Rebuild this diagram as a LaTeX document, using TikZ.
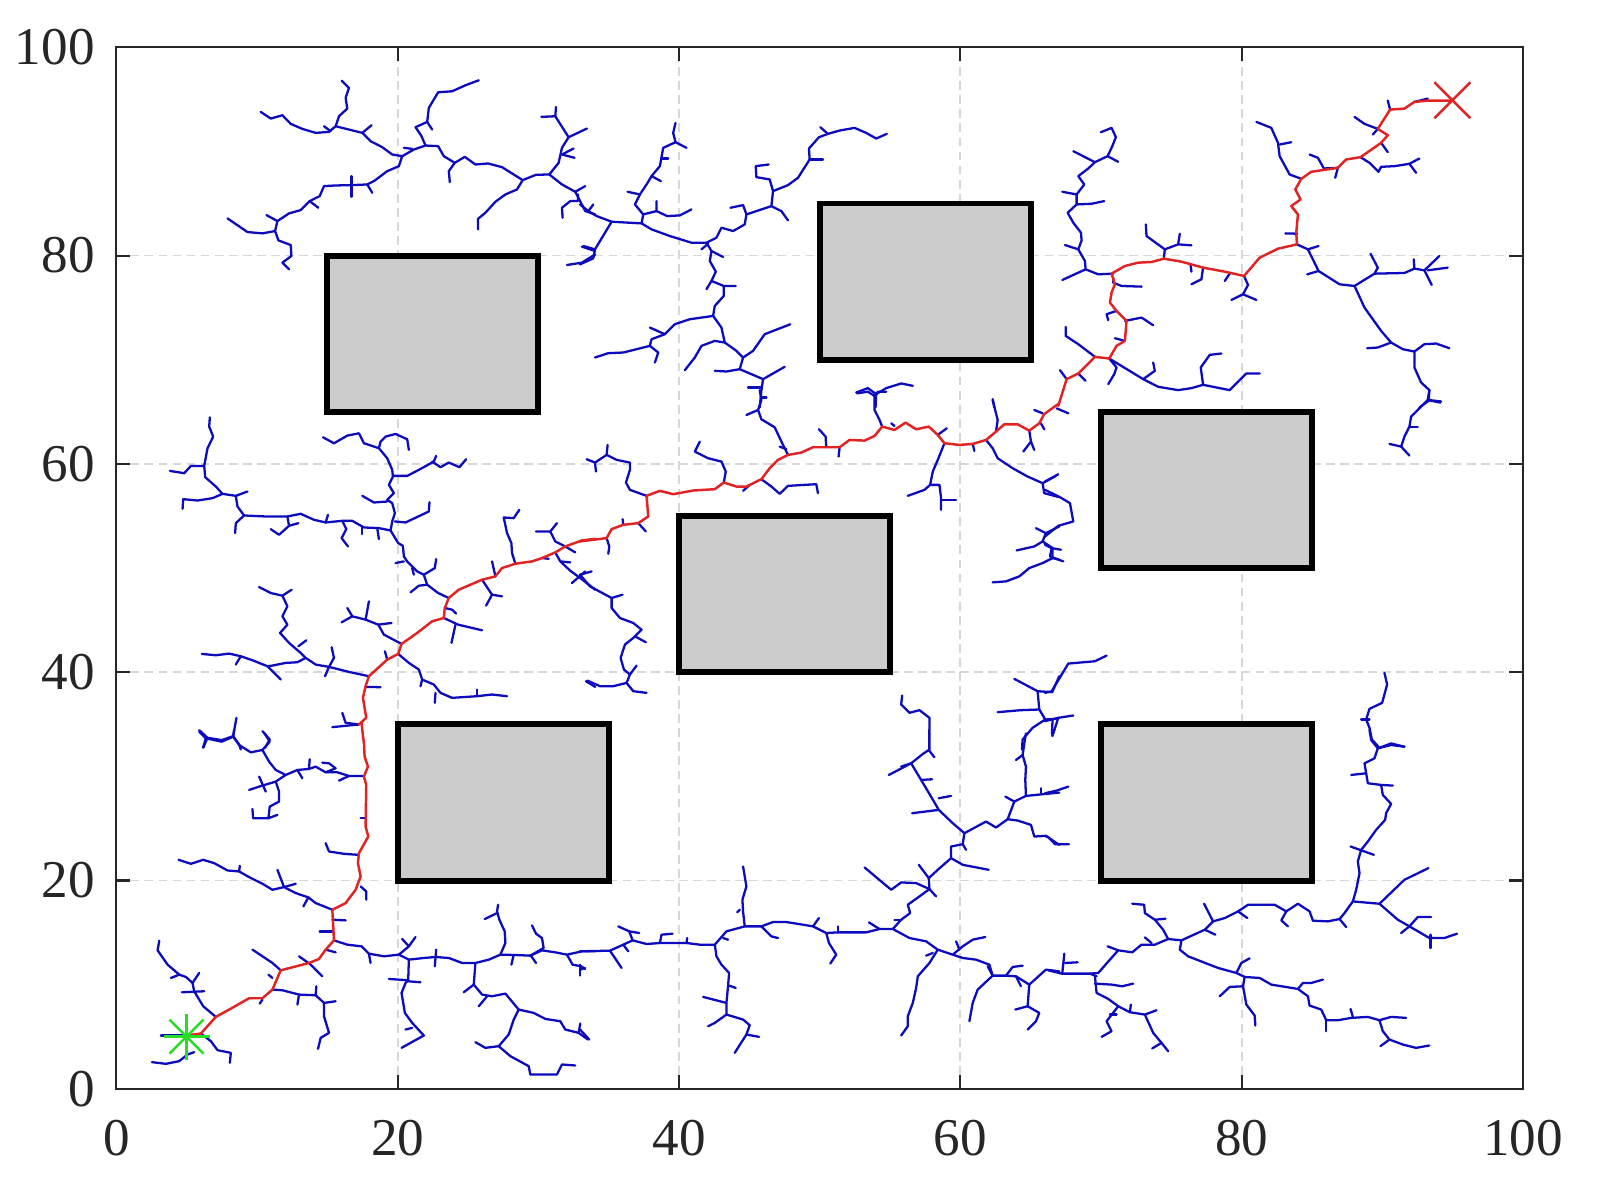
\documentclass[tikz,border=0pt]{standalone}
\usepackage{fontspec}
\setmainfont{Liberation Serif}
\newfontfamily\labfont{Liberation Serif}
\definecolor{axcol}{RGB}{38,38,38}
\definecolor{gridcol}{RGB}{215,215,215}
\definecolor{obsfill}{RGB}{204,204,204}
\definecolor{treeblue}{RGB}{12,12,190}
\definecolor{pathred}{RGB}{225,35,35}
\definecolor{startgreen}{RGB}{40,220,40}
\tikzset{
  tree/.style={draw=treeblue, line width=0.65pt, line join=round, line cap=round},
  rpath/.style={draw=pathred, line width=0.7pt, line join=round, line cap=round},
  gridline/.style={draw=gridcol, line width=0.5pt, dash pattern=on 2.5pt off 1.5pt},
  obstacle/.style={fill=obsfill, draw=black, line width=1.7pt},
  axisline/.style={draw=axcol, line width=0.6pt},
  ticklab/.style={font=\labfont\fontsize{15.1}{18}\selectfont, text=axcol, inner sep=0pt},
  crop/.style={x=0.0033333cm, y=-0.0033333cm}
}
\begin{document}
\begin{tikzpicture}[x=0.01cm, y=-0.01cm]
\useasboundingbox (0,0) rectangle (1600,1202);
\fill[white] (0,0) rectangle (1600,1202);

% ---------- data frame: grid and obstacles ----------
\begin{scope}[shift={(116.3,1088.8)}, x=0.1406cm, y=0.1041cm]
  \foreach \v in {20,40,60,80} {
    \draw[gridline] (\v,0) -- (\v,100);
    \draw[gridline] (0,\v) -- (100,\v);
  }
  \draw[obstacle] (15,65) rectangle (30,80);
  \draw[obstacle] (50,70) rectangle (65,85);
  \draw[obstacle] (40,40) rectangle (55,55);
  \draw[obstacle] (70,50) rectangle (85,65);
  \draw[obstacle] (20,20) rectangle (35,35);
  \draw[obstacle] (70,20) rectangle (85,35);
\end{scope}

% ---------- tree, crop 1 ----------
\begin{scope}[shift={(116,48)}, crop]
\draw[tree] plot coordinates {(435,192) (465,212) (500,202) (525,228) (560,243) (600,255) (640,252) (660,235) (670,205) (695,182) (690,150) (700,120) (678,98)};
\draw[tree] plot coordinates {(625,235) (645,250)};
\draw[tree] plot coordinates {(660,235) (740,255) (765,280) (800,298) (830,320) (860,325)};
\draw[tree] plot coordinates {(740,255) (768,232)};
\draw[tree] plot coordinates {(860,325) (850,355) (815,370) (775,400) (755,410) (710,412) (660,413) (625,415) (612,445) (582,460) (555,487) (520,497) (485,520) (478,550) (440,557) (395,553) (335,512)};
\draw[tree] plot coordinates {(708,385) (708,447)};
\draw[tree] plot coordinates {(755,410) (770,435)};
\draw[tree] plot coordinates {(582,460) (608,480)};
\draw[tree] plot coordinates {(485,520) (452,502)};
\draw[tree] plot coordinates {(478,550) (488,578) (525,592) (527,625) (500,645) (520,665)};
\draw[tree] plot coordinates {(860,325) (895,305) (930,293) (968,295) (985,325) (1018,345) (1048,327) (1080,350) (1118,347) (1160,358) (1222,397) (1262,381) (1302,380) (1340,410) (1380,432) (1410,490) (1440,500)};
\draw[tree] plot coordinates {(865,300) (890,303)};
\draw[tree] plot coordinates {(930,293) (918,265) (900,238) (935,222) (950,245)};
\draw[tree] plot coordinates {(935,222) (940,180) (968,133) (1010,130) (1050,112) (1090,97)};
\draw[tree] plot coordinates {(1018,345) (1000,370) (1003,403)};
\draw[tree] plot coordinates {(1222,397) (1205,425) (1170,440) (1140,462) (1110,495) (1088,513) (1088,545)};
\draw[tree] plot coordinates {(1302,380) (1330,345) (1340,300) (1360,268) (1415,242)};
\draw[tree] plot coordinates {(1360,268) (1320,205) (1278,207)};
\draw[tree] plot coordinates {(1320,205) (1322,177)};
\draw[tree] plot coordinates {(1340,320) (1378,330)};
\draw[tree] plot coordinates {(1340,320) (1375,302)};
\draw[tree] plot coordinates {(1380,432) (1410,415)};
\draw[tree] plot coordinates {(1388,440) (1388,460) (1365,460) (1340,480) (1342,510)};
\draw[tree] plot coordinates {(1355,652) (1400,645) (1440,620)};
\draw[tree] plot coordinates {(1400,597) (1440,610)};
\end{scope}

% ---------- tree, crop 2 ----------
\begin{scope}[shift={(580,48)}, crop]
\draw[tree] plot coordinates {(0,650) (40,632) (45,605) (95,522) (185,527) (215,545) (270,565) (335,585) (380,585) (410,570)};
\draw[tree] plot coordinates {(95,522) (50,505) (25,490) (0,470)};
\draw[tree] plot coordinates {(40,470) (25,490)};
\draw[tree] plot coordinates {(45,605) (10,595)};
\draw[tree] plot coordinates {(185,527) (190,500) (165,470) (180,440) (200,410) (215,385) (240,355) (250,300) (287,283) (280,255) (287,225)};
\draw[tree] plot coordinates {(287,283) (320,300)};
\draw[tree] plot coordinates {(245,332) (265,332)};
\draw[tree] plot coordinates {(215,385) (243,400)};
\draw[tree] plot coordinates {(180,440) (143,432)};
\draw[tree] plot coordinates {(190,500) (230,490) (230,460)};
\draw[tree] plot coordinates {(230,490) (262,505) (300,503) (335,485)};
\draw[tree] plot coordinates {(380,585) (395,610) (390,640) (408,672) (395,700) (380,725)};
\draw[tree] plot coordinates {(395,700) (432,715) (468,715)};
\draw[tree] plot coordinates {(432,715) (432,745) (405,775) (400,805) (330,815) (285,830) (255,860) (215,875) (210,895) (170,905) (130,915) (85,917) (45,930)};
\draw[tree] plot coordinates {(255,860) (210,840)};
\draw[tree] plot coordinates {(210,895) (235,915) (225,945)};
\draw[tree] plot coordinates {(395,610) (430,628)};
\draw[tree] plot coordinates {(365,605) (385,588)};
\draw[tree] plot coordinates {(400,805) (425,840) (435,885) (405,880) (365,895) (345,930) (315,968)};
\draw[tree] plot coordinates {(435,885) (470,910) (490,930) (520,910) (555,860) (632,830)};
\draw[tree] plot coordinates {(490,930) (480,965) (440,972) (405,970)};
\draw[tree] plot coordinates {(480,965) (550,995) (615,958)};
\draw[tree] plot coordinates {(550,995) (545,1030) (540,1080)};
\draw[tree] plot coordinates {(545,1020) (505,1020)};
\draw[tree] plot coordinates {(545,1050) (560,1050)};
\draw[tree] plot coordinates {(410,570) (425,540) (460,550) (495,530) (500,500) (575,475) (580,430) (625,412) (655,390) (690,335) (688,302) (718,268) (745,258) (780,248) (825,240) (860,255) (890,272) (922,258)};
\draw[tree] plot coordinates {(500,500) (490,472) (452,480)};
\draw[tree] plot coordinates {(575,475) (605,490) (625,518)};
\draw[tree] plot coordinates {(580,430) (570,395) (530,388) (528,355) (567,350)};
\draw[tree] plot coordinates {(690,335) (730,335)};
\draw[tree] plot coordinates {(745,258) (722,238)};
\draw[tree] plot coordinates {(830,1035) (865,1022) (890,1040) (920,1022) (965,1008) (1000,1015)};
\draw[tree] plot coordinates {(890,1040) (888,1080)};
\draw[tree] plot coordinates {(1240,1055) (1245,1080)};
\end{scope}

% ---------- tree, crop 3 ----------
\begin{scope}[shift={(1045,48)}, crop]
\draw[tree] plot coordinates {(168,253) (200,240) (213,268) (200,300) (188,325) (150,343) (85,310)};
\draw[tree] plot coordinates {(188,325) (220,342)};
\draw[tree] plot coordinates {(150,343) (130,362) (100,385) (118,410) (95,440) (52,432)};
\draw[tree] plot coordinates {(95,440) (95,470) (140,468) (178,460)};
\draw[tree] plot coordinates {(95,470) (68,495) (85,525) (108,555) (110,578) (100,605) (60,592)};
\draw[tree] plot coordinates {(100,605) (120,640) (122,665) (52,697)};
\draw[tree] plot coordinates {(122,665) (160,680) (205,678)};
\draw[tree] plot coordinates {(205,690) (205,705) (230,715) (290,717)};
\draw[tree] plot coordinates {(357,633) (360,605) (305,565) (303,530)};
\draw[tree] plot coordinates {(360,605) (400,590) (440,593)};
\draw[tree] plot coordinates {(400,590) (405,558)};
\draw[tree] plot coordinates {(437,648) (440,672)};
\draw[tree] plot coordinates {(475,660) (470,695) (440,710)};
\draw[tree] plot coordinates {(555,678) (540,700)};
\draw[tree] plot coordinates {(598,685) (610,712) (595,740) (560,757)};
\draw[tree] plot coordinates {(595,740) (635,757)};
\draw[tree] plot coordinates {(215,790) (185,800) (190,818)};
\draw[tree] plot coordinates {(240,820) (290,810) (325,833)};
\draw[tree] plot coordinates {(240,880) (210,872)};
\draw[tree] plot coordinates {(193,933) (215,960) (208,980) (190,1010)};
\draw[tree] plot coordinates {(193,933) (295,995) (330,970) (325,945)};
\draw[tree] plot coordinates {(295,995) (340,1018) (400,1028) (440,1022) (475,1012) (555,1028) (605,978) (645,978)};
\draw[tree] plot coordinates {(475,1012) (468,960) (495,922) (530,918)};
\draw[tree] plot coordinates {(150,928) (100,890) (62,865) (62,838)};
\draw[tree] plot coordinates {(100,978) (122,1000)};
\draw[tree] plot coordinates {(65,995) (45,968)};
\draw[tree] plot coordinates {(757,590) (790,605) (822,595)};
\draw[tree] plot coordinates {(790,605) (822,670) (788,680)};
\draw[tree] plot coordinates {(822,670) (885,710) (930,715) (990,678) (1000,660) (978,618)};
\draw[tree] plot coordinates {(990,678) (1080,676) (1110,663) (1108,635)};
\draw[tree] plot coordinates {(1110,663) (1140,668) (1185,625)};
\draw[tree] plot coordinates {(1140,668) (1162,712)};
\draw[tree] plot coordinates {(1150,668) (1210,660)};
\draw[tree] plot coordinates {(930,715) (960,780) (1010,850) (1040,885) (1075,905) (1110,912) (1140,890) (1175,888) (1215,902)};
\draw[tree] plot coordinates {(1040,885) (1000,900) (968,902)};
\draw[tree] plot coordinates {(1110,912) (1110,960) (1130,1005) (1155,1028) (1153,1060) (1125,1080)};
\draw[tree] plot coordinates {(1155,1058) (1190,1062)};
\draw[tree] plot coordinates {(758,558) (722,557)};
\draw[tree] plot coordinates {(770,393) (735,380) (705,325) (700,285) (680,240) (635,222)};
\draw[tree] plot coordinates {(705,290) (740,283)};
\draw[tree] plot coordinates {(880,360) (838,362) (820,330) (795,320)};
\draw[tree] plot coordinates {(880,360) (872,390)};
\draw[tree] plot coordinates {(948,328) (975,345) (1002,372) (1010,357) (1050,355) (1095,348) (1125,332)};
\draw[tree] plot coordinates {(1095,348) (1115,375)};
\draw[tree] plot coordinates {(1010,285) (1030,313)};
\draw[tree] plot coordinates {(1000,243) (960,228) (930,207)};
\draw[tree] plot coordinates {(1000,243) (985,260)};
\draw[tree] plot coordinates {(1037,185) (1030,158)};
\draw[tree] plot coordinates {(1110,162) (1150,152)};
\end{scope}

% ---------- tree, crop 4 ----------
\begin{scope}[shift={(116,390)}, crop]
\draw[tree] plot coordinates {(282,82) (280,110) (292,140) (275,175) (265,228) (225,228) (205,250) (162,243)};
\draw[tree] plot coordinates {(265,228) (268,262) (300,290) (320,312) (290,325) (245,332) (202,328) (200,357)};
\draw[tree] plot coordinates {(320,312) (360,318) (395,305)};
\draw[tree] plot coordinates {(360,318) (365,350) (385,377) (360,400) (358,430)};
\draw[tree] plot coordinates {(385,377) (450,380) (515,380) (555,372) (595,390) (630,398) (680,393) (710,393) (745,413) (790,415) (825,422)};
\draw[tree] plot coordinates {(515,380) (520,408) (490,435) (465,418)};
\draw[tree] plot coordinates {(520,408) (548,400)};
\draw[tree] plot coordinates {(630,398) (637,375)};
\draw[tree] plot coordinates {(680,393) (692,418) (678,445) (697,470)};
\draw[tree] plot coordinates {(740,413) (740,433)};
\draw[tree] plot coordinates {(785,415) (790,448)};
\draw[tree] plot coordinates {(825,422) (830,395) (838,370) (830,340) (815,330) (835,310) (820,285) (832,260) (830,240) (815,205) (790,175) (745,160) (730,130) (695,137) (655,160) (622,142)};
\draw[tree] plot coordinates {(790,175) (795,155) (810,140) (840,132) (875,148) (880,180)};
\draw[tree] plot coordinates {(832,258) (875,258) (910,240) (955,215) (962,198)};
\draw[tree] plot coordinates {(950,215) (975,232) (1000,218) (1032,232) (1052,208)};
\draw[tree] plot coordinates {(815,335) (775,338) (740,318)};
\draw[tree] plot coordinates {(838,395) (870,398) (940,365) (942,337)};
\draw[tree] plot coordinates {(825,422) (848,460) (862,468) (865,500) (875,515) (905,545) (925,555) (935,585) (968,610) (1000,625)};
\draw[tree] plot coordinates {(865,515) (840,520)};
\draw[tree] plot coordinates {(890,535) (895,555)};
\draw[tree] plot coordinates {(925,555) (958,535) (962,508)};
\draw[tree] plot coordinates {(935,585) (910,588) (885,608)};
\draw[tree] plot coordinates {(988,655) (1010,660) (1022,672)};
\draw[tree] plot coordinates {(985,685) (1028,705) (1100,722)};
\draw[tree] plot coordinates {(1020,705) (1008,760)};
\draw[tree] plot coordinates {(1100,570) (1130,615) (1112,648)};
\draw[tree] plot coordinates {(1130,615) (1160,620)};
\draw[tree] plot coordinates {(1140,560) (1130,515)};
\draw[tree] plot coordinates {(1200,522) (1190,490) (1188,460) (1175,430) (1165,383) (1195,385) (1212,360)};
\draw[tree] plot coordinates {(1320,488) (1335,515) (1365,543) (1395,565) (1440,600)};
\draw[tree] plot coordinates {(1335,515) (1365,518)};
\draw[tree] plot coordinates {(1370,580) (1410,545)};
\draw[tree] plot coordinates {(1262,425) (1305,425) (1325,400)};
\draw[tree] plot coordinates {(1305,425) (1320,455) (1350,470) (1380,488)};
\draw[tree] plot coordinates {(1280,505) (1300,507)};
\draw[tree] plot coordinates {(430,592) (465,610) (500,618) (528,600)};
\draw[tree] plot coordinates {(500,618) (515,650) (500,680) (515,705) (493,730) (520,760) (555,790) (570,805)};
\draw[tree] plot coordinates {(548,770) (572,752)};
\draw[tree] plot coordinates {(570,805) (545,818) (510,820) (470,828) (455,830) (410,812) (375,800) (340,792) (300,797) (258,793)};
\draw[tree] plot coordinates {(455,830) (475,850) (495,870)};
\draw[tree] plot coordinates {(375,800) (360,825)};
\draw[tree] plot coordinates {(570,805) (600,825) (640,832) (700,847) (760,860)};
\draw[tree] plot coordinates {(640,832) (628,860)};
\draw[tree] plot coordinates {(640,832) (655,805) (648,773)};
\draw[tree] plot coordinates {(750,892) (795,893)};
\draw[tree] plot coordinates {(858,763) (805,735) (788,705) (750,690) (710,680) (695,655)};
\draw[tree] plot coordinates {(750,690) (760,635)};
\draw[tree] plot coordinates {(710,680) (678,698)};
\draw[tree] plot coordinates {(788,705) (828,700)};
\draw[tree] plot coordinates {(848,793) (880,820) (910,840) (920,870) (955,885) (975,910) (1010,925) (1085,920) (1130,915) (1175,920)};
\draw[tree] plot coordinates {(960,910) (958,940)};
\draw[tree] plot coordinates {(1085,920) (1085,900)};
\draw[tree] plot coordinates {(920,870) (915,890)};
\draw[tree] plot coordinates {(815,810) (808,785)};
\draw[tree] plot coordinates {(730,1005) (690,1000) (680,970)};
\draw[tree] plot coordinates {(730,1005) (650,1013)};
\draw[tree] plot coordinates {(250,1022) (275,1045) (318,1052) (352,1040) (362,985)};
\draw[tree] plot coordinates {(352,1040) (370,1065) (375,1080)};
\draw[tree] plot coordinates {(275,1045) (262,1075)};
\draw[tree] plot coordinates {(440,1025) (462,1050) (448,1075)};
\draw[tree] plot coordinates {(1412,875) (1440,892)};
\end{scope}

% ---------- tree, crop 5 ----------
\begin{scope}[shift={(580,390)}, crop]
\draw[tree] plot coordinates {(200,318) (150,300) (138,278) (150,240) (150,218) (110,210) (80,195) (83,165)};
\draw[tree] plot coordinates {(80,195) (45,218) (20,208)};
\draw[tree] plot coordinates {(45,218) (48,245)};
\draw[tree] plot coordinates {(80,445) (88,470) (85,492)};
\draw[tree] plot coordinates {(175,400) (198,425)};
\draw[tree] plot coordinates {(130,405) (128,388)};
\draw[tree] plot coordinates {(432,278) (438,245) (425,215) (385,205) (345,185) (360,155)};
\draw[tree] plot coordinates {(545,268) (575,290) (600,312) (625,288) (675,285) (710,283) (715,310)};
\draw[tree] plot coordinates {(510,285) (490,303)};
\draw[tree] plot coordinates {(625,195) (610,165) (585,112) (545,88) (535,60) (500,75)};
\draw[tree] plot coordinates {(535,60) (545,30) (540,0)};
\draw[tree] plot coordinates {(600,170) (620,178)};
\draw[tree] plot coordinates {(740,172) (738,140) (718,118)};
\draw[tree] plot coordinates {(780,172) (777,200)};
\draw[tree] plot coordinates {(908,110) (900,90) (885,60) (885,18) (895,5) (920,5)};
\draw[tree] plot coordinates {(885,18) (865,5) (832,10)};
\draw[tree] plot coordinates {(935,100) (945,108)};
\draw[tree] plot coordinates {(1075,135) (1102,115)};
\draw[tree] plot coordinates {(1095,160) (1075,210) (1060,245) (1052,285) (1035,300) (985,318)};
\draw[tree] plot coordinates {(1052,285) (1080,285) (1085,325) (1085,360)};
\draw[tree] plot coordinates {(1085,330) (1130,330)};
\draw[tree] plot coordinates {(1180,162) (1185,183)};
\draw[tree] plot coordinates {(1220,150) (1240,175) (1255,205) (1300,235) (1345,260) (1390,280) (1395,310) (1440,322)};
\draw[tree] plot coordinates {(1390,280) (1430,258)};
\draw[tree] plot coordinates {(1250,125) (1255,90) (1240,30)};
\draw[tree] plot coordinates {(1350,122) (1355,155) (1332,185)};
\draw[tree] plot coordinates {(1355,155) (1365,180)};
\draw[tree] plot coordinates {(1365,60) (1390,70)};
\draw[tree] plot coordinates {(1385,100) (1395,118)};
\draw[tree] plot coordinates {(0,555) (35,545)};
\draw[tree] plot coordinates {(0,555) (30,590) (95,625) (128,615)};
\draw[tree] plot coordinates {(95,625) (95,655) (120,685) (160,700) (185,720) (160,745) (135,765) (122,805) (132,840) (150,855) (140,880) (100,890) (60,890) (22,873)};
\draw[tree] plot coordinates {(140,880) (160,905) (200,910)};
\draw[tree] plot coordinates {(165,740) (198,758)};
\draw[tree] plot coordinates {(150,855) (170,828)};
\draw[tree] plot coordinates {(1440,410) (1400,430) (1370,415)};
\draw[tree] plot coordinates {(1400,430) (1390,455) (1420,475) (1420,505) (1390,520) (1350,535) (1320,560) (1280,575) (1240,578)};
\draw[tree] plot coordinates {(1390,455) (1365,470) (1312,482)};
\draw[tree] plot coordinates {(1420,505) (1440,510)};
\draw[tree] plot coordinates {(968,918) (965,945) (990,970) (1020,962) (1050,985) (1050,1080)};
\draw[tree] plot coordinates {(1305,868) (1375,905) (1420,908)};
\draw[tree] plot coordinates {(1375,905) (1380,960) (1398,990) (1430,988)};
\draw[tree] plot coordinates {(1380,960) (1325,962) (1255,968)};
\draw[tree] plot coordinates {(1398,990) (1360,1015) (1330,1050) (1328,1080)};
\draw[tree] plot coordinates {(1420,990) (1418,1035)};
\draw[tree] plot coordinates {(1440,860) (1420,905)};
\end{scope}

% ---------- tree, crop 6 ----------
\begin{scope}[shift={(1045,390)}, crop]
\draw[tree] plot coordinates {(40,253) (0,275)};
\draw[tree] plot coordinates {(0,300) (45,322) (75,340) (85,395) (40,408) (0,440)};
\draw[tree] plot coordinates {(0,465) (20,475) (48,480)};
\draw[tree] plot coordinates {(20,475) (15,500) (55,515)};
\draw[tree] plot coordinates {(35,55) (70,70)};
\draw[tree] plot coordinates {(1155,0) (1150,30) (1188,38)};
\draw[tree] plot coordinates {(1150,30) (1100,80) (1095,110) (1080,140) (1070,170) (1035,162)};
\draw[tree] plot coordinates {(1070,170) (1095,197)};
\draw[tree] plot coordinates {(1095,112) (1120,112)};
\draw[tree] plot coordinates {(0,910) (20,905) (70,822) (150,815) (185,798)};
\draw[tree] plot coordinates {(0,995) (40,985) (85,978)};
\draw[tree] plot coordinates {(40,985) (22,1040)};
\draw[tree] plot coordinates {(1020,850) (1028,885) (1013,940) (975,958) (965,990) (975,1015) (982,1050) (1005,1075) (1040,1062) (1080,1072)};
\draw[tree] plot coordinates {(950,990) (975,990)};
\end{scope}

% ---------- tree, crop 7 ----------
\begin{scope}[shift={(116,730)}, crop]
\draw[tree] plot coordinates {(250,5) (270,25) (318,35) (352,20) (355,0)};
\draw[tree] plot coordinates {(270,25) (262,52)};
\draw[tree] plot coordinates {(352,20) (370,45) (405,67) (440,60) (462,35) (445,8)};
\draw[tree] plot coordinates {(440,60) (460,95) (480,120) (510,135) (545,120) (580,117) (600,110) (630,127) (665,127) (700,138) (745,138)};
\draw[tree] plot coordinates {(545,120) (560,145)};
\draw[tree] plot coordinates {(580,117) (582,88)};
\draw[tree] plot coordinates {(630,127) (660,115) (640,100) (620,98)};
\draw[tree] plot coordinates {(670,152) (700,138)};
\draw[tree] plot coordinates {(510,135) (480,155) (490,185) (490,215) (462,230) (458,265) (412,265) (410,237)};
\draw[tree] plot coordinates {(458,265) (485,255)};
\draw[tree] plot coordinates {(480,155) (430,170) (400,180)};
\draw[tree] plot coordinates {(430,140) (450,185)};
\draw[tree] plot coordinates {(748,265) (735,265)};
\draw[tree] plot coordinates {(728,375) (685,372) (640,365) (630,340)};
\draw[tree] plot coordinates {(650,540) (600,520) (578,503) (540,490) (505,472) (470,480) (440,462) (400,442) (370,425) (335,422) (295,400) (262,390) (225,402) (188,390)};
\draw[tree] plot coordinates {(505,472) (485,420)};
\draw[tree] plot coordinates {(505,472) (540,462)};
\draw[tree] plot coordinates {(578,503) (563,530)};
\draw[tree] plot coordinates {(370,425) (372,408)};
\draw[tree] plot coordinates {(735,470) (752,485) (752,510)};
\draw[tree] plot coordinates {(650,570) (690,572)};
\draw[tree] plot coordinates {(650,605) (612,605)};
\draw[tree] plot coordinates {(655,632) (695,645) (738,650) (760,672) (805,680) (850,675) (880,690) (925,685) (960,682) (1000,685) (1040,700) (1080,700) (1120,690) (1155,675) (1200,676) (1245,678) (1280,662) (1320,668) (1355,675) (1400,665) (1440,665)};
\draw[tree] plot coordinates {(760,672) (765,700)};
\draw[tree] plot coordinates {(850,675) (880,650) (860,628)};
\draw[tree] plot coordinates {(880,650) (900,622)};
\draw[tree] plot coordinates {(962,660) (958,710)};
\draw[tree] plot coordinates {(1155,675) (1170,640) (1168,605) (1152,570) (1145,545) (1148,525)};
\draw[tree] plot coordinates {(1145,550) (1108,568)};
\draw[tree] plot coordinates {(1245,678) (1285,655) (1280,625) (1262,612) (1250,587)};
\draw[tree] plot coordinates {(1248,680) (1262,700)};
\draw[tree] plot coordinates {(1195,676) (1188,705)};
\draw[tree] plot coordinates {(1355,675) (1372,705) (1398,710) (1410,718)};
\draw[tree] plot coordinates {(1395,705) (1395,738)};
\draw[tree] plot coordinates {(880,690) (878,752) (870,760) (858,790) (868,850) (890,880) (925,918) (858,955)};
\draw[tree] plot coordinates {(878,752) (820,748)};
\draw[tree] plot coordinates {(878,755) (915,758)};
\draw[tree] plot coordinates {(890,895) (870,900)};
\draw[tree] plot coordinates {(1080,700) (1075,765) (1045,788)};
\draw[tree] plot coordinates {(1075,765) (1100,795) (1130,800) (1170,792) (1210,840) (1195,870) (1180,915) (1150,950) (1110,955) (1080,938)};
\draw[tree] plot coordinates {(1115,800) (1090,830)};
\draw[tree] plot coordinates {(1210,840) (1255,850) (1290,868) (1335,875) (1350,900) (1390,910) (1418,930)};
\draw[tree] plot coordinates {(1390,910) (1395,882)};
\draw[tree] plot coordinates {(1150,950) (1185,980) (1240,1010) (1245,1035) (1325,1035) (1340,1005) (1380,1008)};
\draw[tree] plot coordinates {(130,633) (125,662) (155,705) (190,735) (210,742) (230,760) (235,785) (262,830) (300,862)};
\draw[tree] plot coordinates {(190,735) (165,745)};
\draw[tree] plot coordinates {(230,760) (250,730)};
\draw[tree] plot coordinates {(198,788) (265,785)};
\draw[tree] plot coordinates {(255,912) (285,935) (305,962) (345,970) (342,1000)};
\draw[tree] plot coordinates {(212,918) (135,918)};
\draw[tree] plot coordinates {(108,998) (150,1003) (190,995) (215,975) (235,968)};
\draw[tree] plot coordinates {(470,780) (500,782) (550,795) (600,797) (625,820) (625,860) (640,910) (615,925) (607,958)};
\draw[tree] plot coordinates {(600,797) (602,770)};
\draw[tree] plot coordinates {(625,820) (660,815)};
\draw[tree] plot coordinates {(550,795) (545,825)};
\draw[tree] plot coordinates {(440,810) (432,822)};
\draw[tree] plot coordinates {(470,745) (458,735)};
\draw[tree] plot coordinates {(495,722) (470,700) (410,660)};
\draw[tree] plot coordinates {(580,700) (620,740)};
\draw[tree] plot coordinates {(578,700) (550,680)};
\draw[tree] plot coordinates {(630,660) (660,668)};
\end{scope}

% ---------- tree, crop 8 ----------
\begin{scope}[shift={(580,730)}, crop]
\draw[tree] plot coordinates {(0,665) (90,663) (130,645) (158,632) (200,643) (240,640) (280,640) (320,640) (360,645) (405,645) (440,605) (495,590) (545,590) (580,577) (620,577) (670,585) (700,590) (740,610) (775,608) (860,608) (900,598) (940,598) (990,625) (1040,635) (1075,660) (1120,675) (1150,685) (1190,690) (1230,705) (1240,738) (1280,738) (1310,740) (1350,765) (1400,720) (1440,725)};
\draw[tree] plot coordinates {(90,663) (125,715)};
\draw[tree] plot coordinates {(130,645) (145,665)};
\draw[tree] plot coordinates {(158,632) (148,605) (115,590)};
\draw[tree] plot coordinates {(148,605) (178,610)};
\draw[tree] plot coordinates {(240,640) (245,615) (278,612)};
\draw[tree] plot coordinates {(320,640) (322,625)};
\draw[tree] plot coordinates {(405,645) (410,680) (425,705) (448,730) (445,768) (440,820) (440,855) (405,880) (385,890)};
\draw[tree] plot coordinates {(440,855) (490,870) (510,887) (500,915) (465,970)};
\draw[tree] plot coordinates {(500,915) (538,922)};
\draw[tree] plot coordinates {(440,820) (370,802)};
\draw[tree] plot coordinates {(448,768) (468,775)};
\draw[tree] plot coordinates {(430,625) (445,630)};
\draw[tree] plot coordinates {(495,590) (490,545) (488,510) (500,470) (490,410)};
\draw[tree] plot coordinates {(480,540) (472,548)};
\draw[tree] plot coordinates {(545,590) (575,620) (595,625)};
\draw[tree] plot coordinates {(700,590) (718,565)};
\draw[tree] plot coordinates {(740,610) (748,640) (770,675) (752,702)};
\draw[tree] plot coordinates {(775,608) (775,590)};
\draw[tree] plot coordinates {(900,598) (868,578)};
\draw[tree] plot coordinates {(940,598) (965,570) (992,550) (985,525) (1020,500) (1050,478) (1048,445) (1018,405)};
\draw[tree] plot coordinates {(965,570) (945,570)};
\draw[tree] plot coordinates {(1050,478) (1070,500)};
\draw[tree] plot coordinates {(1050,478) (1010,460) (965,458) (935,480) (855,413)};
\draw[tree] plot coordinates {(1048,445) (1075,420) (1115,385) (1115,350) (1150,343) (1160,360)};
\draw[tree] plot coordinates {(1115,385) (1150,405) (1228,420)};
\draw[tree] plot coordinates {(1150,343) (1155,310) (1120,280) (1078,240) (1050,192) (1025,150) (995,100) (928,135)};
\draw[tree] plot coordinates {(995,100) (965,110)};
\draw[tree] plot coordinates {(1025,150) (1058,148)};
\draw[tree] plot coordinates {(1078,240) (998,250)};
\draw[tree] plot coordinates {(1078,205) (1115,198)};
\draw[tree] plot coordinates {(995,100) (1030,72) (1048,60) (1065,82)};
\draw[tree] plot coordinates {(1048,60) (1048,0)};
\draw[tree] plot coordinates {(1155,310) (1220,275) (1250,293) (1285,268) (1305,215) (1340,198) (1440,188)};
\draw[tree] plot coordinates {(1305,215) (1278,200)};
\draw[tree] plot coordinates {(1340,198) (1338,150) (1340,110) (1330,75) (1335,40) (1340,10)};
\draw[tree] plot coordinates {(1330,75) (1310,90)};
\draw[tree] plot coordinates {(1385,175) (1385,190)};
\draw[tree] plot coordinates {(1285,268) (1315,272) (1355,285) (1365,320) (1400,318) (1440,345)};
\draw[tree] plot coordinates {(1420,15) (1425,0)};
\draw[tree] plot coordinates {(1075,660) (1050,700) (1015,740) (1010,775) (1000,820) (985,860) (985,890) (965,918)};
\draw[tree] plot coordinates {(1060,670) (1040,678)};
\draw[tree] plot coordinates {(1120,675) (1150,650) (1180,630) (1218,622)};
\draw[tree] plot coordinates {(1140,660) (1130,635)};
\draw[tree] plot coordinates {(1240,738) (1225,710)};
\draw[tree] plot coordinates {(1240,738) (1195,780) (1180,820) (1170,875)};
\draw[tree] plot coordinates {(1280,738) (1300,712) (1330,708)};
\draw[tree] plot coordinates {(1310,740) (1325,770)};
\draw[tree] plot coordinates {(1350,765) (1345,830) (1308,840)};
\draw[tree] plot coordinates {(1345,830) (1380,850) (1370,875) (1345,900)};
\draw[tree] plot coordinates {(0,900) (28,930)};
\draw[tree] plot coordinates {(0,720) (15,715)};
\end{scope}

% ---------- tree, crop 9 ----------
\begin{scope}[shift={(1045,730)}, crop]
\draw[tree] plot coordinates {(0,190) (35,182) (70,170)};
\draw[tree] plot coordinates {(0,318) (10,322) (30,343) (72,343)};
\draw[tree] plot coordinates {(975,0) (980,30) (1000,55) (1040,45) (1080,50)};
\draw[tree] plot coordinates {(1000,55) (990,85) (960,100) (965,130) (920,135)};
\draw[tree] plot coordinates {(965,130) (970,160) (1010,165) (1045,167)};
\draw[tree] plot coordinates {(1010,165) (1015,195) (1040,222) (1025,250) (1022,270) (995,300) (970,335) (950,360) (940,395) (945,430) (935,480) (925,515) (900,550) (885,568) (850,575) (805,573) (795,545) (760,522) (725,545) (690,525) (610,525) (580,545) (540,565) (505,575) (480,600) (410,632) (370,628) (330,645) (290,645) (262,668) (220,662) (195,690) (160,730) (135,732) (50,732) (10,722)};
\draw[tree] plot coordinates {(220,662) (188,650)};
\draw[tree] plot coordinates {(918,350) (988,375)};
\draw[tree] plot coordinates {(885,568) (905,592)};
\draw[tree] plot coordinates {(725,545) (710,572) (730,590)};
\draw[tree] plot coordinates {(580,545) (608,565)};
\draw[tree] plot coordinates {(505,575) (478,522)};
\draw[tree] plot coordinates {(480,600) (512,615)};
\draw[tree] plot coordinates {(370,628) (355,600) (330,570) (300,550) (298,525) (262,522)};
\draw[tree] plot coordinates {(330,570) (362,567)};
\draw[tree] plot coordinates {(300,623) (320,640)};
\draw[tree] plot coordinates {(52,730) (58,672)};
\draw[tree] plot coordinates {(60,700) (98,698)};
\draw[tree] plot coordinates {(135,732) (155,740)};
\draw[tree] plot coordinates {(925,515) (1005,522) (1080,450) (1152,415)};
\draw[tree] plot coordinates {(1005,522) (1060,570) (1095,590) (1120,562) (1160,562)};
\draw[tree] plot coordinates {(1095,590) (1070,610)};
\draw[tree] plot coordinates {(1095,590) (1155,625) (1200,625) (1238,612)};
\draw[tree] plot coordinates {(1158,615) (1158,655)};
\draw[tree] plot coordinates {(410,632) (405,660) (430,680) (520,715) (575,730) (600,742) (645,745) (680,765) (760,778) (790,800) (795,828) (830,840) (845,872) (880,872) (920,865) (970,862) (1005,872) (1040,862) (1085,865)};
\draw[tree] plot coordinates {(918,838) (925,862)};
\draw[tree] plot coordinates {(1005,872) (1015,905) (1035,930) (1075,945) (1115,955) (1155,948)};
\draw[tree] plot coordinates {(1035,930) (1008,950)};
\draw[tree] plot coordinates {(845,872) (845,905)};
\draw[tree] plot coordinates {(760,778) (775,760) (800,760) (835,750)};
\draw[tree] plot coordinates {(575,730) (590,700) (615,686)};
\draw[tree] plot coordinates {(600,742) (595,770) (555,772) (525,800)};
\draw[tree] plot coordinates {(595,770) (605,825) (630,858) (632,888)};
\draw[tree] plot coordinates {(150,740) (155,790) (190,808) (220,830) (255,848) (300,855) (335,842)};
\draw[tree] plot coordinates {(300,855) (325,910) (350,940) (370,965)};
\draw[tree] plot coordinates {(350,940) (322,957)};
\draw[tree] plot coordinates {(220,830) (185,875) (200,905) (170,922)};
\draw[tree] plot coordinates {(195,855) (215,855)};
\draw[tree] plot coordinates {(255,848) (258,825)};
\draw[tree] plot coordinates {(150,762) (200,765) (232,770) (265,762)};
\end{scope}

% ---------- red path ----------
\begin{scope}[shift={(116,730)}, crop]
\draw[rpath] plot coordinates {(212,918) (255,912) (300,862) (340,840) (400,806) (440,806) (470,780) (495,722) (580,700) (610,688) (630,660) (655,632) (650,540) (690,520) (720,480) (735,440) (727,400) (730,370) (758,320) (750,290) (752,165) (745,140) (757,110) (747,80) (745,40) (740,0) (738,-20)};
\end{scope}
\begin{scope}[shift={(116,390)}, crop]
\draw[rpath] plot coordinates {(740,1000) (730,1005) (752,985) (742,925) (750,890) (760,860) (815,810) (848,793) (858,763) (905,730) (950,695) (985,685) (988,655) (1000,625) (1030,600) (1100,570) (1140,560) (1160,535) (1200,522) (1250,515) (1280,505) (1320,488) (1350,470) (1400,452) (1440,447)};
\end{scope}
\begin{scope}[shift={(580,390)}, crop]
\draw[rpath] plot coordinates {(0,455) (80,445) (95,418) (130,405) (175,400) (205,380) (200,318) (240,303) (280,313) (340,302) (405,298) (432,278) (470,290) (500,290) (545,268) (570,235) (595,210) (625,195) (665,188) (700,172) (780,172) (810,150) (855,152) (885,138) (908,110) (945,120) (978,98) (1010,118) (1048,110) (1075,135) (1095,160) (1140,165) (1180,162) (1220,150) (1250,125) (1275,103) (1315,103) (1350,122) (1380,100) (1395,72) (1440,40)};
\end{scope}
\begin{scope}[shift={(1045,48)}, crop]
\draw[rpath] plot coordinates {(40,1075) (65,995) (100,978) (150,928) (193,933) (215,895) (240,880) (245,820) (215,790) (195,765) (200,735) (210,710) (200,678) (240,655) (280,645) (320,643) (357,633) (410,642) (475,660) (540,672) (598,685) (645,630) (700,603) (757,590) (755,555) (760,500) (740,475) (768,455) (752,425) (770,393) (800,372) (880,360) (905,335) (948,328) (1010,285) (1030,262) (1000,243) (1037,185) (1080,182) (1110,162) (1150,158) (1225,158)};
\end{scope}

% ---------- start and goal markers ----------
\coordinate (start) at (186.6,1036.6);
\coordinate (goal) at (1452.4,100.2);
\draw[startgreen, line width=0.7pt] (start) ++(-23,0) -- ++(46,0);
\draw[startgreen, line width=0.7pt] (start) ++(0,-23) -- ++(0,46);
\draw[startgreen, line width=0.7pt] (start) ++(-17,-17) -- ++(34,34);
\draw[startgreen, line width=0.7pt] (start) ++(-17,17) -- ++(34,-34);
\draw[pathred, line width=0.7pt] (goal) ++(-18,-18) -- ++(36,36);
\draw[pathred, line width=0.7pt] (goal) ++(-18,18) -- ++(36,-36);

% ---------- axes ----------
\begin{scope}[shift={(116.3,1088.8)}, x=0.1406cm, y=0.1041cm]
  \foreach \v in {20,40,60,80} {
    \draw[axisline] (\v,0) -- ++(0,1.35);
    \draw[axisline] (\v,100) -- ++(0,-1.35);
    \draw[axisline] (0,\v) -- ++(1.0,0);
    \draw[axisline] (100,\v) -- ++(-1.0,0);
  }
  \draw[axisline] (0,0) rectangle (100,100);
  \foreach \v in {0,20,40,60,80,100} {
    \node[ticklab, anchor=north] (xl\v) at ([yshift=-0.31cm]\v,0) {\v};
    \node[ticklab, anchor=east] (yl\v) at ([xshift=-0.21cm]0,\v) {\v};
  }
\end{scope}
\end{tikzpicture}
\end{document}
